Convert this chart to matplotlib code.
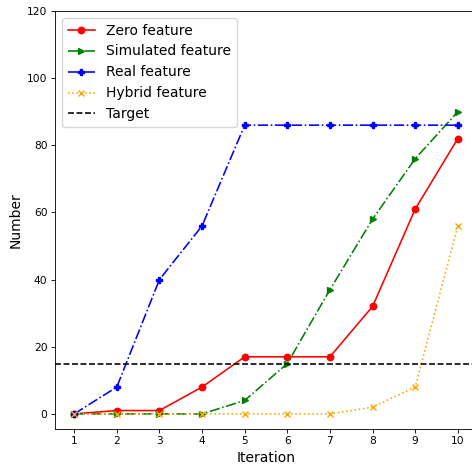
import matplotlib
matplotlib.use("Agg")
import matplotlib.pyplot as plt

iterations = [1, 2, 3, 4, 5, 6, 7, 8, 9, 10]
zero_feature = [0, 1, 1, 8, 17, 17, 17, 32, 61, 82]
simulated_feature = [0, 0, 0, 0, 4, 15, 37, 58, 76, 90]
real_feature = [0, 8, 40, 56, 86, 86, 86, 86, 86, 86]
hybrid_feature = [0, 0, 0, 0, 0, 0, 0, 2, 8, 56]
target = 15

s = 0.77
plt.rcParams.update({
    "lines.linewidth": 1.5 * s,
    "lines.markersize": 6 * s,
    "axes.linewidth": 0.8 * s,
    "xtick.major.size": 3.5 * s,
    "ytick.major.size": 3.5 * s,
    "xtick.major.width": 0.8 * s,
    "ytick.major.width": 0.8 * s,
    "xtick.major.pad": 3.5 * s,
    "ytick.major.pad": 3.5 * s,
    "axes.labelpad": 4 * s,
})

fig = plt.figure(figsize=(4.72, 4.70), dpi=100)
ax = fig.add_axes([55 / 472, 41 / 470, 422 / 472, 418 / 470])

ax.plot(iterations, zero_feature, color="red", linestyle="-", marker="o", label="Zero feature")
ax.plot(iterations, simulated_feature, color="green", linestyle="-.", marker=">", label="Simulated feature")
ax.plot(iterations, real_feature, color="blue", linestyle="-.", marker="P", label="Real feature")
ax.plot(iterations, hybrid_feature, color="orange", linestyle=":", marker="x", label="Hybrid feature")
ax.axhline(target, color="black", linestyle="--", label="Target")

ax.set_ylim(top=120)
ax.set_xticks(iterations)
ax.tick_params(labelsize=10 * s)
ax.set_xlabel("Iteration", fontsize=13 * s)
ax.set_ylabel("Number", fontsize=13 * s)
ax.legend(loc="upper left", fontsize=13 * s)

fig.savefig("out.png", dpi=100)
